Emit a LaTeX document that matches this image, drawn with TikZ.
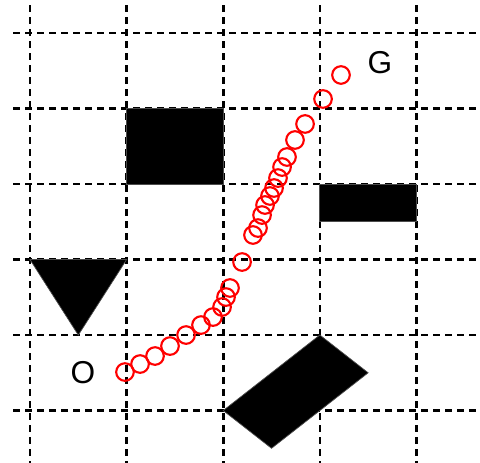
\documentclass[tikz,border=0pt]{standalone}
\usepackage{fontspec}
\setmainfont{Liberation Sans}
\usepackage{tikz}

\begin{document}
\begin{tikzpicture}[
  x=0.966cm, y=0.755cm,
  gridline/.style={dashed, dash pattern=on 0.07cm off 0.05cm, line width=0.75pt},
  obstacle/.style={fill=black, draw=black!70, line width=0.2pt},
  trail/.style={draw=red, line width=0.6pt},
  endlabel/.style={font=\fontsize{9}{10}\selectfont, inner sep=0pt}
]
\useasboundingbox (-0.3106,-0.6821) rectangle (4.658,5.437);
% grid
\foreach \gx in {0,...,4}
  \draw[gridline] (\gx,5.37) -- (\gx,-0.7);
\foreach \gy in {0,...,5}
  \draw[gridline] (-0.176,\gy) -- (4.7,\gy);
% obstacles
\fill[obstacle] (1,3) rectangle (2,4);
\fill[obstacle] (3,2.5) rectangle (4,3);
\fill[obstacle] (0,2) -- (1,2) -- (0.5,1) -- cycle;
\fill[obstacle] (2,0) -- (3,1) -- (3.5,0.5) -- (2.5,-0.5) -- cycle;
% path samples
\foreach \px/\py in {0.983/0.51, 1.139/0.616, 1.294/0.722, 1.449/0.854,
    1.615/1.0, 1.770/1.132, 1.894/1.238, 1.988/1.371, 2.029/1.503,
    2.070/1.623, 2.195/1.967, 2.308/2.325, 2.360/2.417, 2.402/2.589,
    2.433/2.722, 2.484/2.841, 2.526/2.947, 2.567/3.079, 2.609/3.225,
    2.660/3.358, 2.743/3.583, 2.847/3.795, 3.033/4.126, 3.219/4.444}
  \draw[trail] (\px,\py) circle[radius=0.088cm];
% start and goal
\node[endlabel] (start) at (0.549,0.497) {O};
\node[endlabel] (goal) at (3.623,4.603) {G};
\end{tikzpicture}
\end{document}
